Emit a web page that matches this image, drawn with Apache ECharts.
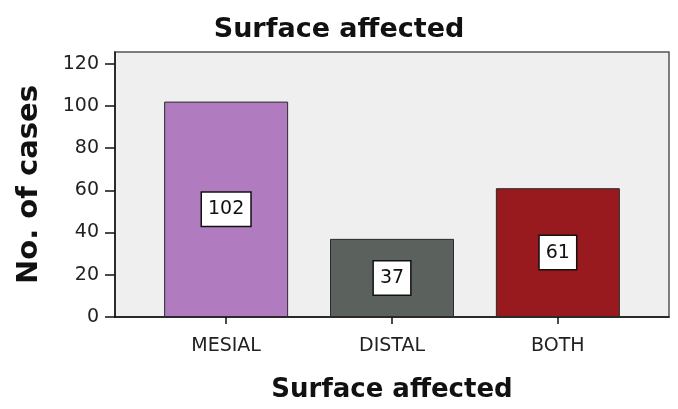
<!DOCTYPE html>
<html>
<head>
    <meta http-equiv="Content-Type" content="text/html; charset=utf-8"/>
    <title>Surface affected</title>
    <style>
        html, body { margin: 0; padding: 0; background: #fff; }
        #main { width: 678px; height: 409px; }
    </style>
    <script src="https://cdn.jsdelivr.net/npm/echarts@6/dist/echarts.min.js"></script>
</head>
<body>
<div id="main"></div>
<script type="text/javascript">
    // data
    var categories = ['MESIAL', 'DISTAL', 'BOTH'];
    var cases = [102, 37, 61];
    var barColors = ['#b07cbf', '#5b625e', '#981a1e'];
    var yTicks = [0, 20, 40, 60, 80, 100, 120];

    var font = 'DejaVu Sans';
    var myChart = echarts.init(document.getElementById('main'));

    var barData = [];
    for (var i = 0; i < cases.length; i++) {
        barData.push({
            value: [i, cases[i]],
            itemStyle: { color: barColors[i] }
        });
    }

    option = {
        animation: false,
        title: {
            text: 'Surface affected',
            left: 'center',
            top: 11,
            textStyle: { fontFamily: font, fontSize: 27, fontWeight: 'bold', color: '#111' }
        },
        grid: {
            left: 115,
            right: 9,
            top: 52,
            bottom: 92,
            show: true,
            backgroundColor: '#efefef',
            borderColor: '#555',
            borderWidth: 1.5
        },
        xAxis: {
            type: 'value',
            min: -0.67,
            max: 2.67,
            splitLine: { show: false },
            axisLine: { show: true, onZero: false, lineStyle: { color: '#111', width: 1.5 } },
            axisTick: { show: true, length: 7, customValues: [0, 1, 2], lineStyle: { color: '#111', width: 1.5 } },
            axisLabel: {
                customValues: [0, 1, 2],
                formatter: function (v) { return categories[Math.round(v)]; },
                fontFamily: font, fontSize: 19, color: '#222', margin: 20
            },
            name: 'Surface affected',
            nameLocation: 'middle',
            nameGap: 60,
            nameTextStyle: { fontFamily: font, fontSize: 26, fontWeight: 'bold', color: '#111' }
        },
        yAxis: {
            type: 'value',
            min: 0,
            max: 125.5,
            splitLine: { show: false },
            axisLine: { show: true, onZero: false, lineStyle: { color: '#111', width: 1.5 } },
            axisTick: { show: true, length: 10, customValues: yTicks, lineStyle: { color: '#111', width: 1.5 } },
            axisLabel: {
                customValues: yTicks,
                fontFamily: font, fontSize: 19, color: '#222', margin: 16
            },
            name: 'No. of cases',
            nameLocation: 'middle',
            nameGap: 71,
            nameTextStyle: { fontFamily: font, fontSize: 29, fontWeight: 'bold', color: '#111' }
        },
        series: [
            {
                type: 'bar',
                barWidth: 124,
                data: barData,
                itemStyle: { borderColor: '#2a2a2a', borderWidth: 1 },
                label: {
                    show: true,
                    position: 'inside',
                    formatter: function (p) { return p.value[1]; },
                    fontFamily: font,
                    fontSize: 19,
                    color: '#111',
                    backgroundColor: '#fff',
                    borderColor: '#111',
                    borderWidth: 1.5,
                    padding: [8, 6, 6, 6]
                }
            }
        ]
    };
    myChart.setOption(option);
</script>
</body>
</html>
